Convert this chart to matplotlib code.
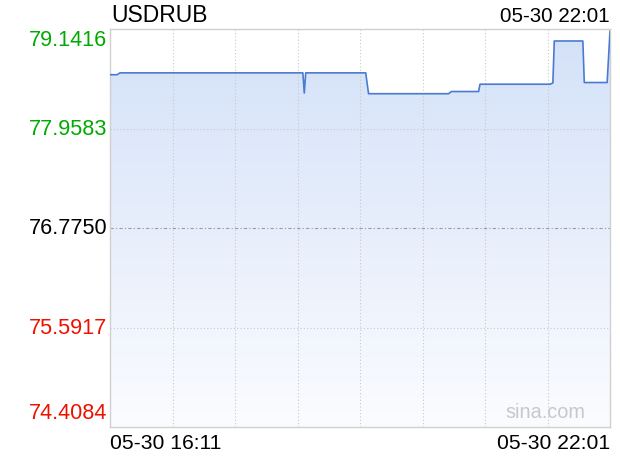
import matplotlib
matplotlib.use("Agg")
import matplotlib.pyplot as plt
import numpy as np
from matplotlib.patches import Polygon
from matplotlib.colors import LinearSegmentedColormap

plt.rcParams['font.family'] = ['Liberation Sans', 'DejaVu Sans']

# data: minutes after 05-30 16:11, price
minutes = [0, 5, 7, 135, 136, 137, 179, 181, 237, 239, 258, 259, 308, 310, 311, 331, 332, 348, 350]
prices = [78.598, 78.598, 78.620, 78.620, 78.380, 78.620, 78.620, 78.372, 78.372, 78.398,
          78.398, 78.485, 78.485, 78.500, 78.999, 78.999, 78.505, 78.505, 79.114]
ytick_vals = [74.4084, 75.5917, 76.7750, 77.9583, 79.1416]
ytick_colors = ['#ee1100', '#ee1100', '#000000', '#00aa00', '#00aa00']
title = "USDRUB"
time_start = "05-30 16:11"
time_end = "05-30 22:01"
x_max = 350

W, H = 620, 460
fig = plt.figure(figsize=(W / 100, H / 100), dpi=100)
L, R, T, B = 110, 610, 30, 428
ax = fig.add_axes([L / W, 1 - B / H, (R - L) / W, (B - T) / H])
ymin, ymax = ytick_vals[0], ytick_vals[-1]
ax.set_xlim(0, x_max)
ax.set_ylim(ymin, ymax)

# gradient fill
grad = np.linspace(0, 1, 256).reshape(-1, 1)
cmap = LinearSegmentedColormap.from_list('g', ['#fbfcff', '#d3e1f8'])
im = ax.imshow(grad, extent=[0, x_max, ymin, ymax], origin='lower', aspect='auto',
               cmap=cmap, zorder=1)
verts = [(minutes[0], ymin)] + list(zip(minutes, prices)) + [(minutes[-1], ymin)]
poly = Polygon(verts, closed=True, transform=ax.transData, facecolor='none', edgecolor='none')
ax.add_patch(poly)
im.set_clip_path(poly)

ax.plot(minutes, prices, color='#4a7bd2', lw=1.2, zorder=3)

# grid
for i in range(1, 8):
    ax.axvline(x_max * i / 8, color='#c8c8c8', lw=0.8, ls=(0, (1, 2)), zorder=2)
for v in ytick_vals[1:-1]:
    if abs(v - 76.7750) < 1e-6:
        ax.axhline(v, color='#9a9ab0', lw=0.8, ls=(0, (3, 2, 1, 2)), zorder=2)
    else:
        ax.axhline(v, color='#c8c8c8', lw=0.8, ls=(0, (1, 2)), zorder=2)

for s in ax.spines.values():
    s.set_color('#d0d0d0')
    s.set_linewidth(1)
ax.set_xticks([])
ax.set_yticks([])

offsets = {0: 14, 4: -11}
for i, (v, c) in enumerate(zip(ytick_vals, ytick_colors)):
    ypix = B - (v - ymin) / (ymax - ymin) * (B - T)
    ypix = ypix - offsets.get(i, 0)
    fig.text((L - 3) / W, 1 - ypix / H, f"{v:.4f}", color=c, fontsize=15.6,
             ha='right', va='center')

fig.text(111 / W, 1 - 15 / H, title, fontsize=16.5, ha='left', va='center', color='#000000')
fig.text(R / W, 1 - 16 / H, time_end, fontsize=14.8, ha='right', va='center', color='#000000')
fig.text(L / W, 1 - 444 / H, time_start, fontsize=15.2, ha='left', va='center', color='#000000')
fig.text(R / W, 1 - 444 / H, time_end, fontsize=15.2, ha='right', va='center', color='#000000')
fig.text(585 / W, 1 - 412 / H, "sina.com", fontsize=14.3, ha='right', va='center', color='#c8c8c8')

fig.savefig("out.png", dpi=100)
